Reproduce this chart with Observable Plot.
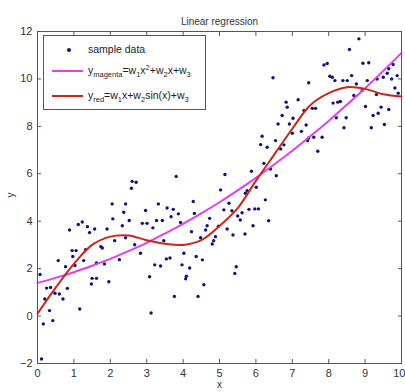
<!DOCTYPE html>
<html>
<head>
<meta charset="utf-8">
<script src="https://cdn.jsdelivr.net/npm/d3@7"></script>
<script src="https://cdn.jsdelivr.net/npm/@observablehq/plot@0.6"></script>
<style>
  html, body { margin: 0; padding: 0; background: #fff; }
  #wrap { position: relative; width: 405px; height: 392px; font-family: "Liberation Sans", Arial, sans-serif; }
  #legend { position: absolute; left: 43px; top: 35px; width: 163px; height: 75px; border: 1px solid #555; background: #fff; box-sizing: border-box; font-size: 10.5px; color: #222; }
  .row { position: absolute; left: 0; height: 16px; width: 100%; }
  .sw { position: absolute; left: 8px; width: 31px; top: 7px; height: 2px; }
  .dot { position: absolute; left: 23px; top: 6px; width: 4px; height: 4px; border-radius: 50%; background: #12127a; }
  .lab { position: absolute; left: 44px; top: 0; white-space: nowrap; line-height: 14px; }
  sub, sup { font-size: 7.5px; line-height: 0; }
</style>
</head>
<body>
<div id="wrap"></div>
<script>
// scatter samples
const sampleX = [0.07,0.11,0.16,0.2,0.25,0.33,0.36,0.42,0.48,0.57,0.6,0.7,0.77,0.82,0.88,0.95,0.97,1.03,1.06,1.12,1.16,1.23,1.27,1.32,1.37,1.43,1.48,1.5,1.57,1.62,1.62,1.74,1.78,1.84,1.91,1.96,2.05,2.07,2.12,2.25,2.33,2.37,2.42,2.42,2.52,2.58,2.6,2.71,2.67,2.83,2.88,2.97,3.01,3.08,3.12,3.17,3.22,3.27,3.32,3.38,3.43,3.47,3.54,3.56,3.64,3.67,3.73,3.76,3.81,3.87,3.93,3.97,4.02,4.07,4.09,4.18,4.23,4.28,4.31,4.36,4.41,4.48,4.53,4.57,4.62,4.66,4.73,4.8,4.84,4.89,4.97,5.03,5.12,5.15,5.21,5.26,5.34,5.37,5.42,5.46,5.5,5.57,5.62,5.7,5.71,5.76,5.81,5.88,5.92,5.97,6.01,6.07,6.13,6.17,6.22,6.26,6.31,6.35,6.4,6.47,6.54,6.56,6.61,6.68,6.72,6.77,6.83,6.86,6.92,7.0,7.02,7.16,7.25,7.32,7.38,7.42,7.45,7.45,7.55,7.59,7.64,7.7,7.82,7.87,7.96,8.03,8.1,8.12,8.17,8.21,8.25,8.32,8.39,8.42,8.48,8.51,8.57,8.63,8.69,8.76,8.83,8.92,8.94,9.01,9.06,9.1,9.17,9.22,9.31,9.33,9.36,9.44,9.5,9.53,9.61,9.65,9.65,9.73,9.77,9.82,9.88,9.91];
const sampleY = [1.75,-1.81,-0.33,0.72,1.18,0.23,1.21,-0.19,0.96,2.34,0.93,0.72,2.08,1.17,3.63,2.76,2.51,2.13,2.76,3.86,0.3,3.97,2.34,2.8,3.77,3.52,1.35,1.59,3.67,1.59,2.24,2.93,2.87,2.2,3.67,1.45,4.73,4.1,3.18,2.38,3.81,4.38,4.73,3.3,4.03,5.39,5.68,5.64,3.01,2.65,3.91,4.45,3.91,1.66,0.13,3.72,2.16,4.03,4.73,2.11,4.03,3.18,2.41,4.56,2.45,4.19,4.5,0.83,5.89,4.31,3.95,2.16,2.65,1.57,1.68,2.03,3.56,4.83,4.33,2.51,0.83,3.3,2.37,1.32,3.63,3.81,4.12,3.04,3.18,3.35,3.79,5.32,4.48,5.97,3.67,4.76,4.44,3.42,1.8,2.08,4.22,4.05,4.36,3.46,5.18,5.29,4.5,6.11,3.81,4.52,5.43,4.52,7.23,7.58,6.44,4.9,7.12,4.02,6.2,10.05,7.4,5.92,8.1,7.05,8.46,7.22,9.02,8.81,8.1,7.71,8.34,9.12,7.79,8.67,8.06,7.4,7.51,9.84,8.76,7.54,8.76,6.95,7.54,10.59,10.65,10.11,10.07,8.98,9.93,8.36,9.02,9.05,9.93,7.94,8.36,9.93,11.24,10.14,9.3,9.79,11.69,9.51,10.66,8.84,9.93,10.68,7.94,8.46,9.34,10.0,8.55,8.81,10.07,8.08,10.24,10.43,8.71,10.0,10.61,9.62,10.14,9.4];

// fitted curves
const curveX   = [0,0.5,1,1.5,2,2.5,3,3.5,4,4.5,5,5.5,6,6.5,7,7.5,8,8.5,9,9.5,10];
const magentaY = [1.4,1.61,1.85,2.12,2.41,2.74,3.09,3.48,3.89,4.33,4.8,5.3,5.83,6.39,6.97,7.59,8.23,8.91,9.61,10.34,11.1];
const redY     = [0.1,1.2,2.2,3.0,3.35,3.4,3.2,3.05,3.0,3.2,3.8,4.55,5.7,6.8,7.9,8.9,9.4,9.65,9.58,9.35,9.26];

const xTicks = [0,1,2,3,4,5,6,7,8,9,10];
const yTicks = [-2,0,2,4,6,8,10,12];
const title = "Linear regression";

const samples = sampleX.map((x, i) => ({x, y: sampleY[i]}));
const magenta = curveX.map((x, i) => ({x, y: magentaY[i]}));
const red = curveX.map((x, i) => ({x, y: redY[i]}));
const xMax = xTicks[xTicks.length - 1];

const chart = Plot.plot({
  width: 405,
  height: 392,
  marginLeft: 37,
  marginRight: 4,
  marginTop: 31,
  marginBottom: 29,
  x: {domain: [0, 10]},
  y: {domain: [-2, 12]},
  style: {fontFamily: "Liberation Sans, Arial, sans-serif", fontSize: "11px", color: "#333", background: "white"},
  marks: [
    Plot.dot(samples, {x: "x", y: "y", r: 1.7, fill: "#12127a", stroke: "none"}),
    Plot.line(magenta, {x: "x", y: "y", stroke: "#e040e8", strokeWidth: 2, curve: "catmull-rom"}),
    Plot.line(red, {x: "x", y: "y", stroke: "#cc2418", strokeWidth: 2, curve: "catmull-rom"}),
    Plot.axisX(xTicks.filter(t => t !== xMax), {anchor: "bottom", tickSize: 0, tickPadding: 6, label: null}),
    Plot.axisX(xTicks.filter(t => t === xMax), {anchor: "bottom", tickSize: 0, tickPadding: 6, label: null, textAnchor: "end", dx: 4}),
    Plot.axisY(yTicks, {anchor: "left", tickSize: 0, tickPadding: 5, label: null}),
    Plot.axisX(xTicks, {anchor: "bottom", tickSize: -4, tickFormat: () => "", label: null, stroke: "#555"}),
    Plot.axisX(xTicks, {anchor: "top", tickSize: -4, tickFormat: () => "", label: null, stroke: "#555"}),
    Plot.axisY(yTicks, {anchor: "left", tickSize: -4, tickFormat: () => "", label: null, stroke: "#555"}),
    Plot.axisY(yTicks, {anchor: "right", tickSize: -4, tickFormat: () => "", label: null, stroke: "#555"}),
    Plot.frame({stroke: "#555"}),
    Plot.text([title], {frameAnchor: "top", dy: -14, fontSize: 10, fill: "#333"}),
    Plot.text(["x"], {frameAnchor: "bottom", dy: 24, fontSize: 10, fill: "#333"}),
    Plot.text(["y"], {frameAnchor: "left", dx: -27, rotate: -90, fontSize: 10, fill: "#333"})
  ]
});

const wrap = document.getElementById("wrap");
wrap.appendChild(chart);
const legend = document.createElement("div");
legend.id = "legend";
legend.innerHTML =
  '<div class="row" style="top:6px"><div class="dot"></div><div class="lab">sample data</div></div>' +
  '<div class="row" style="top:27px"><div class="sw" style="background:#e040e8"></div><div class="lab">y<sub>magenta</sub>=w<sub>1</sub>x<sup>2</sup>+w<sub>2</sub>x+w<sub>3</sub></div></div>' +
  '<div class="row" style="top:52px"><div class="sw" style="background:#cc2418"></div><div class="lab">y<sub>red</sub>=w<sub>1</sub>x+w<sub>2</sub>sin(x)+w<sub>3</sub></div></div>';
wrap.appendChild(legend);
</script>
</body>
</html>
